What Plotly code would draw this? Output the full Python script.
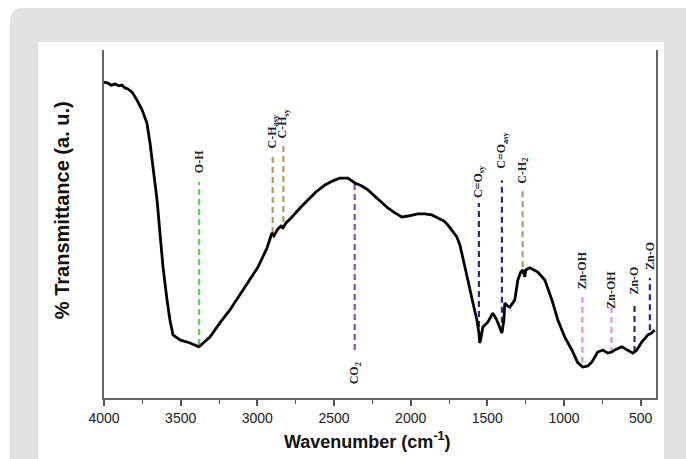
import plotly.graph_objects as go

# FTIR spectrum (wavenumber in cm-1, transmittance in a.u.)
wavenumber = [4000, 3974, 3954, 3928, 3902, 3883, 3863, 3844, 3817, 3785, 3752, 3720, 3700, 3681,
              3654, 3635, 3615, 3589, 3570, 3550, 3504, 3439, 3381, 3309, 3244, 3179, 3113, 3048,
              2996, 2937, 2918, 2905, 2892, 2866, 2846, 2833, 2813, 2774, 2722, 2670, 2618, 2559,
              2507, 2461, 2409, 2364, 2318, 2279, 2233, 2188, 2149, 2103, 2057, 2018, 1992, 1953,
              1907, 1862, 1823, 1784, 1757, 1725, 1699, 1679, 1660, 1647, 1627, 1594, 1568, 1555,
              1549, 1542, 1529, 1497, 1464, 1438, 1405, 1392, 1386, 1366, 1353, 1321, 1301, 1282,
              1269, 1256, 1249, 1223, 1171, 1125, 1079, 1040, 995, 949, 910, 877, 845, 819, 780,
              747, 714, 688, 669, 623, 591, 551, 525, 493, 454, 428, 408]
transmittance = [90.8, 90.5, 89.9, 90.2, 89.7, 89.9, 89.1, 88.8, 87.9, 85.6, 82.8, 79.0, 73.3, 66.4,
                 56.9, 47.4, 37.6, 28.2, 22.4, 18.1, 16.7, 15.8, 14.7, 17.5, 21.6, 25.3, 29.6, 33.9,
                 37.6, 43.1, 46.0, 47.4, 46.6, 48.6, 49.4, 48.9, 50.3, 52.0, 54.6, 56.9, 59.2, 61.2,
                 62.4, 63.2, 63.2, 61.8, 60.9, 59.8, 58.0, 56.3, 54.6, 53.2, 52.0, 52.3, 52.6, 52.9,
                 52.9, 52.6, 51.7, 50.9, 49.7, 48.0, 46.3, 44.0, 40.5, 38.2, 33.9, 27.3, 22.4, 18.7,
                 15.8, 17.2, 20.4, 21.8, 24.4, 22.4, 18.7, 22.4, 27.3, 26.4, 26.1, 28.2, 33.9, 36.2,
                 36.8, 34.8, 36.8, 37.4, 36.2, 33.9, 28.2, 22.4, 17.5, 13.8, 10.1, 8.9, 9.2, 10.3, 13.2,
                 13.8, 12.9, 13.2, 13.8, 14.7, 13.8, 12.9, 13.8, 16.1, 18.1, 18.7, 19.5]

# Band assignments
band_wn = [3380, 2900, 2830, 2365, 1555, 1405, 1270, 880, 690, 540, 440]
band_labels = ["O-H", "C-H<sub>asy</sub>", "C-H<sub>sy</sub>", "CO<sub>2</sub>", "C=O<sub>sy</sub>",
               "C=O<sub>asy</sub>", "C-H<sub>2</sub>", "Zn-OH", "Zn-OH", "Zn-O", "Zn-O"]
band_top = [62.1, 70.4, 73.3, 61.8, 56.0, 62.6, 59.8, 29.0, 26.1, 27.6, 34.5]
band_bottom = [15.2, 47.4, 50.6, 13.8, 20.4, 21.6, 37.6, 10.1, 12.9, 13.2, 19.5]
band_label_y = [67.8, 76.5, 79.0, 7.0, 62.3, 71.3, 65.2, 36.8, 31.0, 33.6, 40.8]
band_colors = ["#5ad35a", "#b39b5e", "#b39b5e", "#8e44c9", "#262a8a", "#262a8a",
               "#b39b5e", "#e58ee5", "#e58ee5", "#262a8a", "#262a8a"]

x_ticks = [4000, 3500, 3000, 2500, 2000, 1500, 1000, 500]

fig = go.Figure()

for wn, top, bot, col in zip(band_wn, band_top, band_bottom, band_colors):
    fig.add_trace(go.Scatter(x=[wn, wn], y=[bot, top], mode="lines",
                             line=dict(color=col, width=2.2, dash="6px,4px"),
                             hoverinfo="skip", showlegend=False))

fig.add_trace(go.Scatter(x=wavenumber, y=transmittance, mode="lines",
                         line=dict(color="black", width=2.8), showlegend=False))

for wn, lab, ly in zip(band_wn, band_labels, band_label_y):
    fig.add_annotation(x=wn, y=ly, xref="x", yref="y", text=lab, showarrow=False,
                       textangle=-90, xanchor="center", yanchor="middle",
                       font=dict(family="Liberation Serif", size=12, color="#222", weight="bold"))

fig.add_annotation(x=-0.076, y=0.54, xref="paper", yref="paper", text="% Transmittance (a. u.)",
                   showarrow=False, textangle=-90, xanchor="center", yanchor="middle",
                   font=dict(family="Liberation Sans, Arial", size=20, color="#111", weight="bold"))
fig.add_annotation(x=0.478, y=-0.121, xref="paper", yref="paper",
                   text="Wavenumber (cm<sup>-1</sup>)", showarrow=False,
                   xanchor="center", yanchor="middle",
                   font=dict(family="Liberation Sans, Arial", size=18, color="#111", weight="bold"))

# page background: grey rounded card with white panel
fig.add_shape(type="path", xref="paper", yref="paper", layer="below",
              path="M -0.1703,-0.2 L -0.1703,1.0805 Q -0.1703,1.1207 -0.1449,1.1207 "
                   "L 1.1,1.1207 L 1.1,-0.2 Z",
              fillcolor="#e2e2e2", line=dict(width=0))
fig.add_shape(type="rect", xref="paper", yref="paper", layer="below",
              x0=-0.1196, x1=1.0145, y0=-0.2, y1=1.023,
              fillcolor="white", line=dict(width=0))

fig.update_layout(
    width=686, height=459,
    margin=dict(l=104, r=30, t=50, b=61),
    paper_bgcolor="white", plot_bgcolor="white",
    xaxis=dict(range=[4000, 400], tickvals=x_ticks, ticks="outside", ticklen=6,
               tickwidth=1.5, tickcolor="#555", showline=True, linecolor="#666",
               linewidth=1.5, mirror=False, showgrid=False, zeroline=False,
               tickfont=dict(family="Liberation Sans Narrow, Arial Narrow, Liberation Sans",
                             size=14, color="#222"),
               minor=dict(dtick=250, tick0=0, ticks="outside", ticklen=4, tickcolor="#555",
                          tickwidth=1.2, showgrid=False)),
    yaxis=dict(range=[0, 100], showticklabels=False, ticks="", showline=True,
               linecolor="#666", linewidth=1.5, mirror=True, showgrid=False,
               zeroline=False),
)

fig.write_html("out.html", config={"displayModeBar": False},
               post_script="document.body.style.margin='0';")
